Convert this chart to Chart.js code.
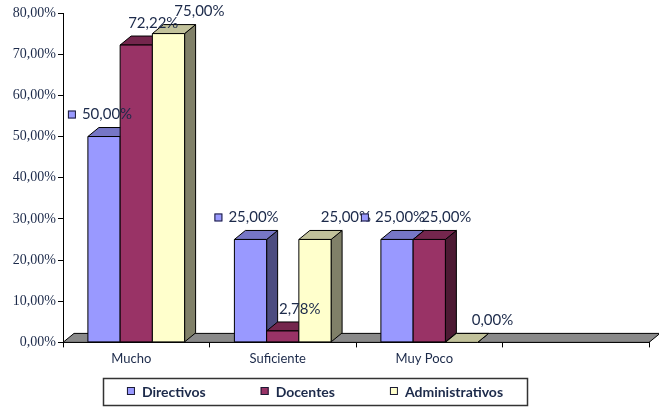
<!DOCTYPE html>
<html>
<head>
<meta charset="utf-8">
<script src="https://cdn.jsdelivr.net/npm/chart.js@4"></script>
<style>
  body { margin: 0; background: #fff; }
  canvas { display: block; }
</style>
</head>
<body>
<canvas id="chart" width="659" height="409"></canvas>
<script>
const categories = ['Mucho', 'Suficiente', 'Muy Poco', ''];
const directivos = [50, 25, 25, null];
const docentes = [72.22, 2.78, 25, null];
const administrativos = [75, 25, 0, null];
const yTicks = [0, 10, 20, 30, 40, 50, 60, 70, 80];

const textColor = '#1c2a4a';
const fmt = v => v.toFixed(2).replace('.', ',') + '%';

// front, top, side colours for each series
const shades = [
    ['#9999ff', '#7676c6', '#4c4c80'],
    ['#993366', '#74264d', '#4d1a33'],
    ['#ffffcc', '#c2c29b', '#808068']
];
const DX = 11, DY = -9;

function poly(ctx, pts, fill) {
    ctx.beginPath();
    ctx.moveTo(pts[0][0], pts[0][1]);
    for (let k = 1; k < pts.length; k++) ctx.lineTo(pts[k][0], pts[k][1]);
    ctx.closePath();
    ctx.fillStyle = fill;
    ctx.fill();
    ctx.stroke();
}

const bars3d = {
    id: 'bars3d',
    beforeDatasetsDraw(chart) {
        const ctx = chart.ctx;
        const a = chart.chartArea;
        const base = chart.scales.y.getPixelForValue(0);
        ctx.save();
        ctx.strokeStyle = '#000';
        ctx.lineWidth = 1;
        // floor
        poly(ctx, [[a.left, base], [a.left + DX, base + DY], [a.right + DX, base + DY], [a.right, base]], '#8a8a8a');

        const n = chart.data.labels.length;
        for (let i = 0; i < n; i++) {
            chart.data.datasets.forEach((ds, d) => {
                if (ds.data[i] == null) return;
                const el = chart.getDatasetMeta(d).data[i];
                const l = el.x - el.width / 2, r = el.x + el.width / 2;
                const t = el.y, b = el.base;
                const c = shades[d];
                poly(ctx, [[r, t], [r + DX, t + DY], [r + DX, b + DY], [r, b]], c[2]);
                poly(ctx, [[l, t], [l + DX, t + DY], [r + DX, t + DY], [r, t]], c[1]);
                if (b - t > 0) poly(ctx, [[l, t], [r, t], [r, b], [l, b]], c[0]);
            });
        }

        // value labels
        ctx.font = '15px Lato';
        ctx.textBaseline = 'middle';
        ctx.textAlign = 'center';
        for (let i = 0; i < n; i++) {
            chart.data.datasets.forEach((ds, d) => {
                const v = ds.data[i];
                if (v == null) return;
                const el = chart.getDatasetMeta(d).data[i];
                const txt = fmt(v);
                const cx = el.x + 3 + 14 * d;
                const cy = el.y - 22;
                ctx.fillStyle = textColor;
                ctx.fillText(txt, cx, cy);
                if (d === 0) {
                    const w = ctx.measureText(txt).width;
                    const kx = cx - w / 2 - 14;
                    ctx.fillStyle = shades[0][0];
                    ctx.fillRect(kx, cy - 4, 8, 8);
                    ctx.strokeStyle = '#1a1a33';
                    ctx.strokeRect(kx + 0.5, cy - 3.5, 7, 7);
                    ctx.strokeStyle = '#000';
                }
            });
        }
        ctx.restore();
        return false;
    },
    afterDraw(chart) {
        // legend box under the chart
        const ctx = chart.ctx;
        ctx.save();
        ctx.font = 'bold 14px Lato';
        ctx.textBaseline = 'middle';
        const items = chart.data.datasets.map((ds, d) => ({
            text: ds.label, color: shades[d][0], w: 8 + 7 + ctx.measureText(ds.label).width
        }));
        const gap = 55;
        const total = items.reduce((s, it) => s + it.w, 0) + gap * (items.length - 1);
        const cx = 315, cy = 391;
        let x = cx - total / 2;
        ctx.strokeStyle = '#333';
        ctx.lineWidth = 1.5;
        ctx.strokeRect(103.5, 378.5, 424, 27);
        items.forEach(it => {
            ctx.fillStyle = it.color;
            ctx.fillRect(x, cy - 4, 8, 8);
            ctx.lineWidth = 1;
            ctx.strokeStyle = '#1a1a33';
            ctx.strokeRect(x + 0.5, cy - 3.5, 7, 7);
            ctx.fillStyle = textColor;
            ctx.fillText(it.text, x + 15, cy + 1);
            x += it.w + gap;
        });
        ctx.restore();
    }
};

new Chart(document.getElementById('chart'), {
    type: 'bar',
    data: {
        labels: categories,
        datasets: [
            { label: 'Directivos', data: directivos, backgroundColor: shades[0][0] },
            { label: 'Docentes', data: docentes, backgroundColor: shades[1][0] },
            { label: 'Administrativos', data: administrativos, backgroundColor: shades[2][0] }
        ]
    },
    options: {
        responsive: false,
        animation: false,
        categoryPercentage: 0.66,
        barPercentage: 1,
        layout: { padding: { top: 13, right: 10, bottom: 38, left: 0 } },
        plugins: {
            legend: { display: false },
            tooltip: { enabled: false }
        },
        scales: {
            x: {
                grid: { offset: true, drawOnChartArea: false, tickLength: 5, color: '#000' },
                border: { color: '#000' },
                ticks: { color: textColor, font: { family: 'Lato', size: 13 }, labelOffset: -5, padding: 4 }
            },
            y: {
                min: 0,
                max: 80,
                afterBuildTicks: s => { s.ticks = yTicks.map(v => ({ value: v })); },
                afterFit: s => { s.width = 63; },
                grid: { drawOnChartArea: false, tickLength: 5, color: '#000' },
                border: { color: '#000' },
                ticks: { color: textColor, font: { family: 'Liberation Serif', size: 14 }, padding: 2, callback: v => fmt(v) }
            }
        }
    },
    plugins: [bars3d]
});
</script>
</body>
</html>
